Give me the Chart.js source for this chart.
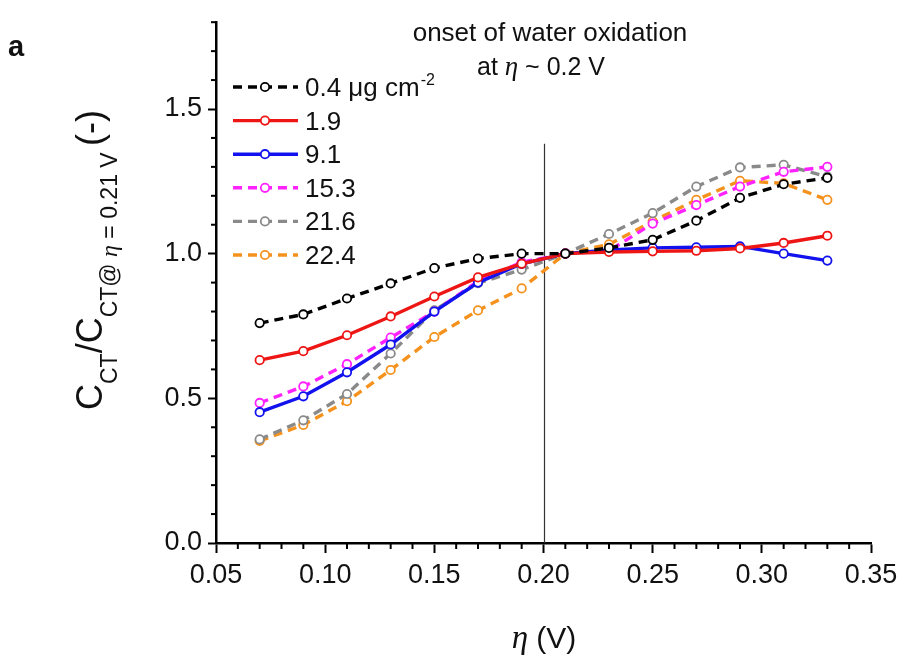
<!DOCTYPE html>
<html><head><meta charset="utf-8">
<script src="https://cdn.jsdelivr.net/npm/chart.js@4.4.0/dist/chart.umd.min.js"></script>
<style>html,body{margin:0;padding:0;background:#fff;}canvas{display:block;}</style>
</head><body>
<canvas id="c" width="906" height="658"></canvas>
<script>
// ---- data ----
const etaValues = [0.07,0.09,0.11,0.13,0.15,0.17,0.19,0.21,0.23,0.25,0.27,0.29,0.31,0.33];
const load04  = [0.760,0.790,0.845,0.897,0.950,0.983,1.000,1.000,1.020,1.048,1.114,1.193,1.240,1.262];
const load19  = [0.632,0.663,0.718,0.783,0.852,0.918,0.965,1.000,1.006,1.008,1.010,1.018,1.037,1.062];
const load91  = [0.452,0.507,0.590,0.686,0.800,0.900,0.965,1.000,1.013,1.020,1.022,1.025,1.000,0.976];
const load153 = [0.484,0.541,0.618,0.710,0.800,0.905,0.970,1.000,1.010,1.104,1.168,1.232,1.283,1.300];
const load216 = [0.358,0.424,0.515,0.655,0.804,0.898,0.945,1.000,1.068,1.140,1.232,1.298,1.307,1.266];
const load224 = [0.353,0.408,0.490,0.598,0.712,0.804,0.880,1.000,1.032,1.112,1.186,1.252,1.243,1.186];
const seriesLabels = ['0.4 μg cm⁻²','1.9','9.1','15.3','21.6','22.4'];
const xTickValues = [0.05,0.10,0.15,0.20,0.25,0.30,0.35];
const yTickValues = [0.0,0.5,1.0,1.5];
const onsetEta = 0.20;
const onsetLineTop = 1.38;

// ---- styles ----
const seriesValues = [load04, load19, load91, load153, load216, load224];
const seriesColors = ['#000000','#ee1515','#1212ee','#ff22ff','#8a8a8a','#f5921e'];
const seriesDash = [[9,6],[],[],[9,6],[9,6],[9,6]];
const SANS = '"Liberation Sans", Arial, sans-serif';
const SERIF = '"Liberation Serif", "Times New Roman", serif';

const datasets = seriesValues.map((vals, i) => ({
  label: seriesLabels[i],
  data: etaValues.map((x, j) => ({x, y: vals[j]})),
  borderColor: seriesColors[i],
  borderDash: seriesDash[i],
  borderWidth: 3.4,
  pointRadius: 4.2,
  pointBorderWidth: 1.8,
  pointBackgroundColor: '#ffffff',
  pointBorderColor: seriesColors[i],
  tension: 0,
  fill: false
}));

const decorPlugin = {
  id: 'decor',
  beforeDatasetsDraw(chart) {
    const ctx = chart.ctx, xs = chart.scales.x, ys = chart.scales.y;
    ctx.save();
    ctx.strokeStyle = '#333';
    ctx.lineWidth = 1.2;
    const px = Math.round(xs.getPixelForValue(onsetEta)) + 0.5;
    ctx.beginPath();
    ctx.moveTo(px, ys.getPixelForValue(0));
    ctx.lineTo(px, ys.getPixelForValue(onsetLineTop));
    ctx.stroke();
    ctx.restore();
  },
  afterDraw(chart) {
    const ctx = chart.ctx, xs = chart.scales.x, ys = chart.scales.y;
    ctx.save();
    // minor ticks
    ctx.strokeStyle = '#000';
    ctx.lineWidth = 2;
    for (let k = 5; k <= 35; k++) {
      if (k % 5 === 0) continue;
      const px = xs.getPixelForValue(k / 100);
      ctx.beginPath(); ctx.moveTo(px, ys.bottom); ctx.lineTo(px, ys.bottom + 6); ctx.stroke();
    }
    for (let k = 0; k <= 18; k++) {
      if (k % 5 === 0) continue;
      const py = ys.getPixelForValue(k / 10);
      ctx.beginPath(); ctx.moveTo(xs.left, py); ctx.lineTo(xs.left - 5, py); ctx.stroke();
    }
    // legend
    const lx0 = 233, lx1 = 298, lmx = 265, ly0 = 87, ldy = 33.6;
    chart.data.datasets.forEach((ds, i) => {
      const y = ly0 + i * ldy;
      ctx.strokeStyle = ds.borderColor;
      ctx.lineWidth = 3.4;
      ctx.setLineDash(ds.borderDash);
      ctx.lineDashOffset = 0;
      ctx.beginPath(); ctx.moveTo(lx0, y); ctx.lineTo(lx1, y); ctx.stroke();
      ctx.setLineDash([]);
      ctx.fillStyle = '#fff';
      ctx.lineWidth = 1.8;
      ctx.beginPath(); ctx.arc(lmx, y, 4.2, 0, Math.PI * 2); ctx.fill(); ctx.stroke();
      ctx.fillStyle = '#111';
      ctx.textBaseline = 'alphabetic';
      ctx.textAlign = 'left';
      const lbl = ds.label;
      const base = y + 9;
      if (lbl.includes('⁻²')) {
        const main = lbl.replace('⁻²', '');
        ctx.font = '26px ' + SANS;
        ctx.fillText(main, 305, base);
        const w = ctx.measureText(main).width;
        ctx.font = '16px ' + SANS;
        ctx.fillText('-2', w + 306, base - 11);
      } else {
        ctx.font = '26px ' + SANS;
        ctx.fillText(lbl, 305, base);
      }
    });
    // annotation text
    ctx.fillStyle = '#111';
    ctx.textAlign = 'center';
    ctx.font = '26px ' + SANS;
    ctx.fillText('onset of water oxidation', 550, 41);
    drawRun(ctx, [
      {t: 'at ', f: '25px ' + SANS},
      {t: 'η', f: 'italic 27px ' + SERIF},
      {t: ' ~ 0.2 V', f: '25px ' + SANS}
    ], 541, 75, 'center');
    // panel letter
    ctx.textAlign = 'left';
    ctx.font = 'bold 29px ' + SANS;
    ctx.fillText('a', 8, 56);
    // x title
    drawRun(ctx, [
      {t: 'η', f: 'italic 33px ' + SERIF},
      {t: ' (V)', f: '30px ' + SANS}
    ], 544, 648, 'center');
    // y title (rotated)
    ctx.save();
    ctx.translate(102, 410);
    ctx.rotate(-Math.PI / 2);
    const M = '36px ' + SANS, S = '23px ' + SANS, SI = 'italic 24px ' + SERIF;
    const pieces = [
      {t: 'C', f: M, dy: 0}, {t: 'CT', f: S, dy: 15}, {t: '/', f: M, dy: 0},
      {t: 'C', f: M, dy: 0}, {t: 'CT@ ', f: S, dy: 15}, {t: 'η', f: SI, dy: 15},
      {t: ' = 0.21 V ', f: S, dy: 15}, {t: '(-)', f: M, dy: 0}
    ];
    let p = 0;
    ctx.textAlign = 'left';
    pieces.forEach(pc => {
      ctx.font = pc.f;
      ctx.fillText(pc.t, p, pc.dy);
      p += ctx.measureText(pc.t).width;
    });
    ctx.restore();
    ctx.restore();
  }
};

function drawRun(ctx, parts, cx, baseY, align) {
  let total = 0;
  parts.forEach(pt => { ctx.font = pt.f; pt.w = ctx.measureText(pt.t).width; total += pt.w; });
  let x = align === 'center' ? cx - total / 2 : cx;
  ctx.textAlign = 'left';
  parts.forEach(pt => { ctx.font = pt.f; ctx.fillText(pt.t, x, baseY); x += pt.w; });
}

new Chart(document.getElementById('c'), {
  type: 'line',
  data: { datasets },
  plugins: [decorPlugin],
  options: {
    responsive: false,
    animation: false,
    devicePixelRatio: 1,
    layout: { padding: { left: 0, top: 17, right: 35, bottom: 0 } },
    plugins: { legend: { display: false }, tooltip: { enabled: false }, title: { display: false } },
    scales: {
      x: {
        type: 'linear', min: 0.05, max: 0.35,
        afterFit: s => { s.height = 115; },
        afterBuildTicks: s => { s.ticks = xTickValues.map(v => ({value: v})); },
        ticks: { color: '#111', font: { family: SANS, size: 27 }, padding: 6,
                 callback: v => Number(v).toFixed(2), maxRotation: 0, autoSkip: false },
        grid: { display: true, drawOnChartArea: false, drawTicks: true, tickLength: 10, tickWidth: 2, tickColor: '#000' },
        border: { display: true, color: '#000', width: 2.5 }
      },
      y: {
        type: 'linear', min: 0, max: 1.8,
        afterFit: s => { s.width = 216; },
        afterBuildTicks: s => { s.ticks = yTickValues.map(v => ({value: v})); },
        ticks: { color: '#111', font: { family: SANS, size: 27 }, padding: 6,
                 callback: v => Number(v).toFixed(1), autoSkip: false },
        grid: { display: true, drawOnChartArea: false, drawTicks: true, tickLength: 8, tickWidth: 2, tickColor: '#000' },
        border: { display: true, color: '#000', width: 2.5 }
      }
    }
  }
});
</script>
</body></html>
